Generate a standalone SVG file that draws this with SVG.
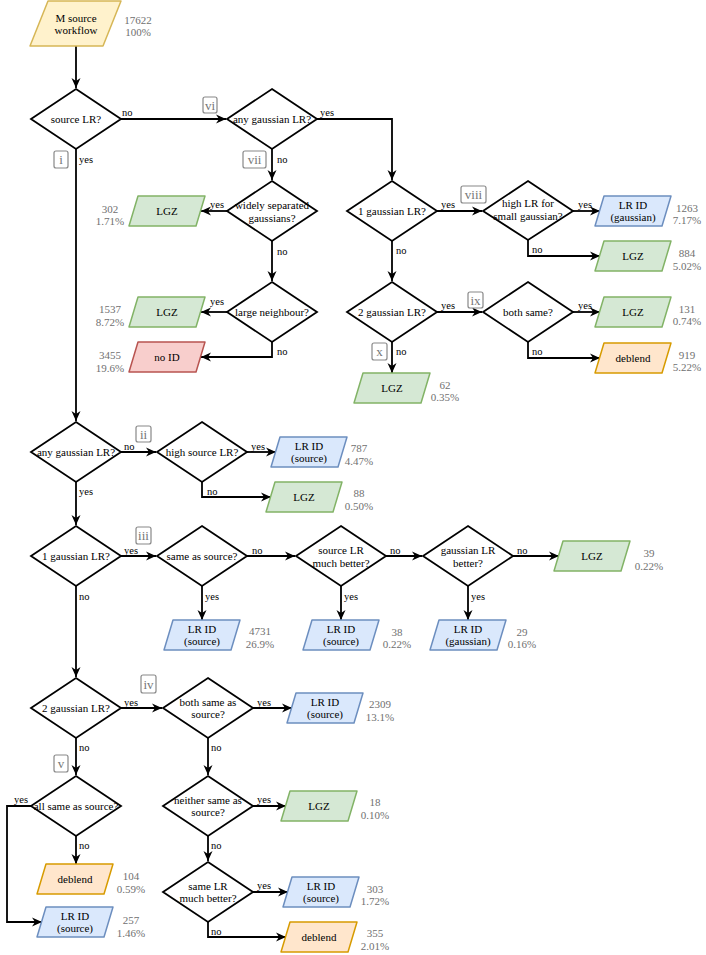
<svg xmlns="http://www.w3.org/2000/svg" width="706" height="955" viewBox="0 0 706 955" font-family="'Liberation Serif','Times New Roman',serif">
<defs>
<marker id="ah" markerUnits="userSpaceOnUse" markerWidth="10" markerHeight="10" refX="10" refY="5" orient="auto" viewBox="0 0 10 10">
<path d="M0,0.5 L10,5 L0,9.5 L3,5 Z" fill="#000"/>
</marker>
<style>
text{font-family:"Liberation Serif","Times New Roman",serif;font-size:11px;fill:#000;text-anchor:middle;dominant-baseline:central}
.d{fill:#fff;stroke:#000;stroke-width:1.8;stroke-linejoin:miter}
.p{stroke-width:1.5;stroke-linejoin:round}
.g{fill:#d5e8d4;stroke:#82b366}
.b{fill:#dae8fc;stroke:#6c8ebf}
.o{fill:#ffe6cc;stroke:#d79b00}
.r{fill:#f8cecc;stroke:#b85450}
.y{fill:#fff2cc;stroke:#d6b656}
.e{fill:none;stroke:#000;stroke-width:1.8;marker-end:url(#ah)}
.l{text-anchor:start;font-size:10.5px}
.n{fill:#707070}
.rb{fill:#fff;stroke:#888;stroke-width:1.2}
.rt{fill:#777;font-size:13px}
</style>
</defs>

<g id="connectors">
<path class="e" d="M76,46 V88"/>
<path class="e" d="M121,119 H226"/>
<path class="e" d="M317,119 H392 V180"/>
<path class="e" d="M272,149 V180"/>
<path class="e" d="M227,211 H201"/>
<path class="e" d="M272,241 V281"/>
<path class="e" d="M227,312 H201"/>
<path class="e" d="M272,342 V357 H201"/>
<path class="e" d="M437,211 H482"/>
<path class="e" d="M573,211 H600"/>
<path class="e" d="M528,240 V256 H600"/>
<path class="e" d="M392,241 V281"/>
<path class="e" d="M437,312 H482"/>
<path class="e" d="M573,312 H600"/>
<path class="e" d="M528,342 V358 H600"/>
<path class="e" d="M392,342 V373"/>
<path class="e" d="M76,149 V421"/>
<path class="e" d="M121,452 H156"/>
<path class="e" d="M247,452 H276"/>
<path class="e" d="M202,482 V497 H271"/>
<path class="e" d="M76,482 V525"/>
<path class="e" d="M121,556 H156"/>
<path class="e" d="M247,556 H295"/>
<path class="e" d="M386,556 H422"/>
<path class="e" d="M513,556 H559"/>
<path class="e" d="M202,586 V620"/>
<path class="e" d="M341,586 V620"/>
<path class="e" d="M468,586 V620"/>
<path class="e" d="M76,586 V677"/>
<path class="e" d="M121,708 H162"/>
<path class="e" d="M253,708 H292"/>
<path class="e" d="M208,738 V775"/>
<path class="e" d="M253,806 H286"/>
<path class="e" d="M208,836 V861"/>
<path class="e" d="M253,892 H288"/>
<path class="e" d="M208,922 V937 H286"/>
<path class="e" d="M76,738 V775"/>
<path class="e" d="M31,806 H7 V922 H42"/>
<path class="e" d="M76,836 V864"/>
<text class="l" x="122" y="112">no</text>
<text class="l" x="320" y="112">yes</text>
<text class="l" x="277" y="159">no</text>
<text class="l" x="210" y="204">yes</text>
<text class="l" x="277" y="251">no</text>
<text class="l" x="210" y="301">yes</text>
<text class="l" x="277" y="351">no</text>
<text class="l" x="441" y="204">yes</text>
<text class="l" x="578" y="204">yes</text>
<text class="l" x="532" y="249">no</text>
<text class="l" x="396" y="250">no</text>
<text class="l" x="441" y="305">yes</text>
<text class="l" x="578" y="305">yes</text>
<text class="l" x="532" y="351">no</text>
<text class="l" x="396" y="351">no</text>
<text class="l" x="79" y="159">yes</text>
<text class="l" x="124" y="446">no</text>
<text class="l" x="251" y="446">yes</text>
<text class="l" x="207" y="491">no</text>
<text class="l" x="79" y="491">yes</text>
<text class="l" x="124" y="550">yes</text>
<text class="l" x="252" y="550">no</text>
<text class="l" x="390" y="550">no</text>
<text class="l" x="517" y="550">no</text>
<text class="l" x="205" y="596">yes</text>
<text class="l" x="344" y="596">yes</text>
<text class="l" x="471" y="596">yes</text>
<text class="l" x="79" y="596">no</text>
<text class="l" x="124" y="702">yes</text>
<text class="l" x="257" y="702">yes</text>
<text class="l" x="211" y="747">no</text>
<text class="l" x="257" y="799">yes</text>
<text class="l" x="211" y="845">no</text>
<text class="l" x="257" y="885">yes</text>
<text class="l" x="211" y="931">no</text>
<text class="l" x="79" y="747">no</text>
<text class="l" x="14" y="799">yes</text>
<text class="l" x="79" y="845">no</text>
</g>

<g id="roman-labels">
<rect class="rb" x="54" y="151" width="14" height="17" rx="2"/><text class="rt" x="61" y="159.5">i</text>
<rect class="rb" x="136" y="426" width="15" height="16" rx="2"/><text class="rt" x="143.5" y="434">ii</text>
<rect class="rb" x="136" y="527" width="15" height="17" rx="2"/><text class="rt" x="143.5" y="535.5">iii</text>
<rect class="rb" x="141" y="675" width="15" height="18" rx="2"/><text class="rt" x="148.5" y="684">iv</text>
<rect class="rb" x="54" y="755" width="14" height="17" rx="2"/><text class="rt" x="61" y="763.5">v</text>
<rect class="rb" x="203" y="97" width="14" height="16" rx="2"/><text class="rt" x="210" y="105">vi</text>
<rect class="rb" x="243" y="151" width="23" height="17" rx="2"/><text class="rt" x="254.5" y="159.5">vii</text>
<rect class="rb" x="461" y="186" width="25" height="17" rx="2"/><text class="rt" x="473.5" y="194.5">viii</text>
<rect class="rb" x="468" y="292" width="15" height="16" rx="2"/><text class="rt" x="475.5" y="300">ix</text>
<rect class="rb" x="372" y="343" width="15" height="17" rx="2"/><text class="rt" x="379.5" y="351.5">x</text>
</g>

<g id="start"><polygon class="p y" points="48,1 121,1 103,46 30,46"/><text x="76" y="17.5">M source</text><text x="76" y="29.5">workflow</text><text class="n" x="138" y="20">17622</text><text class="n" x="138" y="32">100%</text></g>

<g id="d1"><polygon class="d" points="76,89 121,119 76,149 31,119"/><text x="76" y="119">source LR?</text></g>
<g id="d2"><polygon class="d" points="272,89 317,119 272,149 227,119"/><text x="272" y="119">any gaussian LR?</text></g>
<g id="d3"><polygon class="d" points="272,181 317,211 272,241 227,211"/><text x="272" y="205">widely separated</text><text x="272" y="218">gaussians?</text></g>
<g id="d4"><polygon class="d" points="272,282 317,312 272,342 227,312"/><text x="272" y="312">large neighbour?</text></g>
<g id="d5"><polygon class="d" points="392,181 437,211 392,241 347,211"/><text x="392" y="211">1 gaussian LR?</text></g>
<g id="d6"><polygon class="d" points="528,181 573,211 528,240 483,211"/><text x="528" y="203">high LR for</text><text x="528" y="216">small gaussian?</text></g>
<g id="d7"><polygon class="d" points="392,282 437,312 392,342 347,312"/><text x="392" y="312">2 gaussian LR?</text></g>
<g id="d8"><polygon class="d" points="528,282 573,312 528,342 483,312"/><text x="528" y="312">both same?</text></g>
<g id="d9"><polygon class="d" points="76,422 121,452 76,482 31,452"/><text x="76" y="452">any gaussian LR?</text></g>
<g id="d10"><polygon class="d" points="202,422 247,452 202,482 157,452"/><text x="202" y="452">high source LR?</text></g>
<g id="d11"><polygon class="d" points="76,526 121,556 76,586 31,556"/><text x="76" y="556">1 gaussian LR?</text></g>
<g id="d12"><polygon class="d" points="202,526 247,556 202,586 157,556"/><text x="202" y="556">same as source?</text></g>
<g id="d13"><polygon class="d" points="341,526 386,556 341,586 296,556"/><text x="341" y="550">source LR</text><text x="341" y="563">much better?</text></g>
<g id="d14"><polygon class="d" points="468,526 513,556 468,586 423,556"/><text x="468" y="550">gaussian LR</text><text x="468" y="563">better?</text></g>
<g id="d15"><polygon class="d" points="76,678 121,708 76,738 31,708"/><text x="76" y="708">2 gaussian LR?</text></g>
<g id="d16"><polygon class="d" points="208,678 253,708 208,738 163,708"/><text x="208" y="702">both same as</text><text x="208" y="714">source?</text></g>
<g id="d17"><polygon class="d" points="208,776 253,806 208,836 163,806"/><text x="208" y="800">neither same as</text><text x="208" y="812">source?</text></g>
<g id="d18"><polygon class="d" points="208,862 253,892 208,922 163,892"/><text x="208" y="886">same LR</text><text x="208" y="898">much better?</text></g>
<g id="d19"><polygon class="d" points="76,776 121,806 76,836 31,806"/><text x="76" y="806">all same as source?</text></g>

<g id="o302"><polygon class="p g" points="138,196 205,196 196,226 129,226"/><text x="167" y="211">LGZ</text><text class="n" x="110" y="209">302</text><text class="n" x="110" y="221">1.71%</text></g>
<g id="o1537"><polygon class="p g" points="138,297 205,297 196,327 129,327"/><text x="167" y="312">LGZ</text><text class="n" x="110" y="309">1537</text><text class="n" x="110" y="322">8.72%</text></g>
<g id="o3455"><polygon class="p r" points="138,342 205,342 196,372 129,372"/><text x="167" y="357">no ID</text><text class="n" x="110" y="355">3455</text><text class="n" x="110" y="368">19.6%</text></g>
<g id="o1263"><polygon class="p b" points="604,196 671,196 662,226 595,226"/><text x="633" y="205">LR ID</text><text x="633" y="217">(gaussian)</text><text class="n" x="687" y="208">1263</text><text class="n" x="687" y="220">7.17%</text></g>
<g id="o884"><polygon class="p g" points="604,241 671,241 662,271 595,271"/><text x="633" y="256">LGZ</text><text class="n" x="687" y="253">884</text><text class="n" x="687" y="266">5.02%</text></g>
<g id="o131"><polygon class="p g" points="604,297 671,297 662,327 595,327"/><text x="633" y="312">LGZ</text><text class="n" x="687" y="309">131</text><text class="n" x="687" y="321">0.74%</text></g>
<g id="o919"><polygon class="p o" points="604,343 671,343 662,373 595,373"/><text x="633" y="358">deblend</text><text class="n" x="687" y="355">919</text><text class="n" x="687" y="367">5.22%</text></g>
<g id="o62"><polygon class="p g" points="363,373 430,373 421,403 354,403"/><text x="392" y="388">LGZ</text><text class="n" x="445" y="385">62</text><text class="n" x="445" y="397">0.35%</text></g>
<g id="o787"><polygon class="p b" points="280,437 347,437 338,467 271,467"/><text x="309" y="446">LR ID</text><text x="309" y="458">(source)</text><text class="n" x="359" y="448">787</text><text class="n" x="359" y="461">4.47%</text></g>
<g id="o88"><polygon class="p g" points="275,482 342,482 333,512 266,512"/><text x="304" y="497">LGZ</text><text class="n" x="359" y="493">88</text><text class="n" x="359" y="506">0.50%</text></g>
<g id="o39"><polygon class="p g" points="563,541 630,541 621,571 554,571"/><text x="592" y="556">LGZ</text><text class="n" x="649" y="553">39</text><text class="n" x="649" y="566">0.22%</text></g>
<g id="o4731"><polygon class="p b" points="173,620 240,620 231,650 164,650"/><text x="202" y="629">LR ID</text><text x="202" y="641">(source)</text><text class="n" x="260" y="631">4731</text><text class="n" x="260" y="644">26.9%</text></g>
<g id="o38"><polygon class="p b" points="312,620 379,620 370,650 303,650"/><text x="341" y="629">LR ID</text><text x="341" y="641">(source)</text><text class="n" x="397" y="632">38</text><text class="n" x="397" y="644">0.22%</text></g>
<g id="o29"><polygon class="p b" points="439,620 506,620 497,650 430,650"/><text x="468" y="629">LR ID</text><text x="468" y="641">(gaussian)</text><text class="n" x="522" y="632">29</text><text class="n" x="522" y="644">0.16%</text></g>
<g id="o2309"><polygon class="p b" points="296,693 363,693 354,723 287,723"/><text x="325" y="702">LR ID</text><text x="325" y="714">(source)</text><text class="n" x="380" y="704">2309</text><text class="n" x="380" y="717">13.1%</text></g>
<g id="o18"><polygon class="p g" points="290,791 357,791 348,821 281,821"/><text x="319" y="806">LGZ</text><text class="n" x="375" y="802">18</text><text class="n" x="375" y="815">0.10%</text></g>
<g id="o303"><polygon class="p b" points="292,877 359,877 350,907 283,907"/><text x="321" y="886">LR ID</text><text x="321" y="898">(source)</text><text class="n" x="375" y="889">303</text><text class="n" x="375" y="901">1.72%</text></g>
<g id="o355"><polygon class="p o" points="290,922 357,922 348,952 281,952"/><text x="319" y="937">deblend</text><text class="n" x="375" y="933">355</text><text class="n" x="375" y="946">2.01%</text></g>
<g id="o104"><polygon class="p o" points="46,864 113,864 104,894 37,894"/><text x="75" y="879">deblend</text><text class="n" x="131" y="876">104</text><text class="n" x="131" y="889">0.59%</text></g>
<g id="o257"><polygon class="p b" points="46,907 113,907 104,937 37,937"/><text x="75" y="916">LR ID</text><text x="75" y="928">(source)</text><text class="n" x="131" y="920">257</text><text class="n" x="131" y="933">1.46%</text></g>
</svg>
